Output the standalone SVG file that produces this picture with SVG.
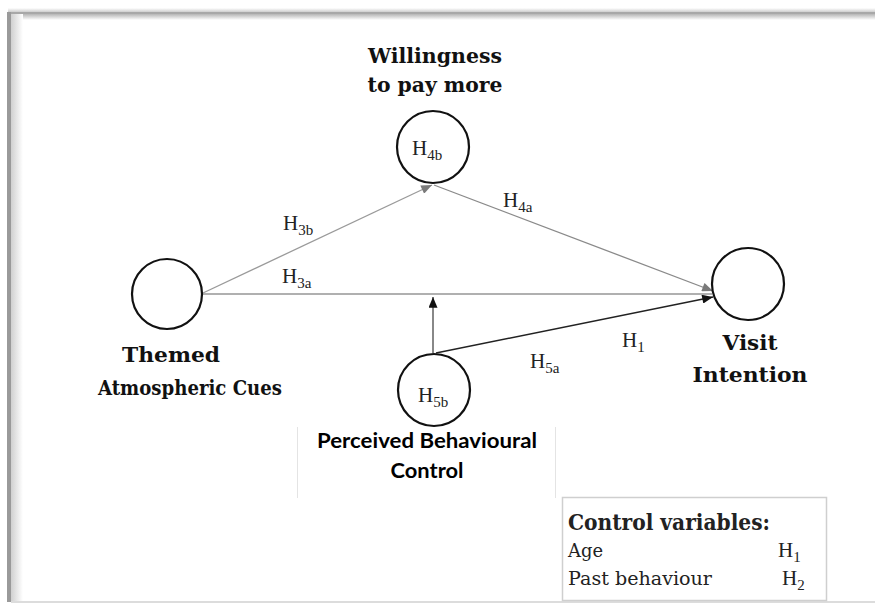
<svg xmlns="http://www.w3.org/2000/svg" width="875" height="605" viewBox="0 0 875 605">
<defs>
<marker id="ag" viewBox="0 0 12 10" refX="12" refY="5" markerWidth="12" markerHeight="9" orient="auto" markerUnits="userSpaceOnUse">
<path d="M0,0 L12,5 L0,10 z" fill="#7a7a7a"/>
</marker>
<marker id="ab" viewBox="0 0 12 10" refX="12" refY="5" markerWidth="12" markerHeight="9" orient="auto" markerUnits="userSpaceOnUse">
<path d="M0,0 L12,5 L0,10 z" fill="#111"/>
</marker>
<linearGradient id="topsh" x1="0" y1="0" x2="0" y2="1">
<stop offset="0" stop-color="#ffffff"/>
<stop offset="0.5" stop-color="#b5b5b5"/>
<stop offset="1" stop-color="#ffffff"/>
</linearGradient>
<linearGradient id="leftsh" x1="0" y1="0" x2="1" y2="0">
<stop offset="0" stop-color="#d0d0d0"/>
<stop offset="1" stop-color="#ffffff"/>
</linearGradient>
</defs>
<style>
.node{fill:#fff;stroke:#111;stroke-width:2.2}
.lbl{font-family:"DejaVu Serif","Liberation Serif",serif;font-weight:bold;font-size:20.5px;fill:#111;text-anchor:middle}
.h{font-family:"Liberation Serif","DejaVu Serif",serif;font-size:21px;fill:#222}
.sub{font-size:15px}
.sans{font-family:Lato,"Open Sans","Liberation Sans",sans-serif;font-weight:bold;font-size:20px;fill:#000;text-anchor:middle}
.ctlb{font-family:"DejaVu Serif","Liberation Serif",serif;font-weight:bold;font-size:22px;fill:#222}
.ctl{font-family:"DejaVu Serif","Liberation Serif",serif;font-size:19px;fill:#222}
</style>
<rect width="875" height="605" fill="#fff"/>
<g id="frame">
<rect x="8" y="8" width="867" height="12" fill="url(#topsh)"/>
<rect x="8" y="12" width="867" height="2" fill="#a8a8a8"/>
<rect x="11" y="14" width="12" height="588" fill="url(#leftsh)"/>
<rect x="7" y="12" width="4" height="590" fill="#9a9a9a"/>
<rect x="11" y="601" width="864" height="2" fill="#dcdcdc"/>
</g>
<g id="connectors">
<line x1="203" y1="294" x2="712" y2="294" stroke="#b0b0b0" stroke-width="2"/>
<line x1="203" y1="293" x2="432" y2="185" stroke="#9a9a9a" stroke-width="1.3" marker-end="url(#ag)"/>
<line x1="434" y1="185" x2="713" y2="291" stroke="#8a8a8a" stroke-width="1.3" marker-end="url(#ag)"/>
<line x1="436" y1="353" x2="713" y2="297" stroke="#222" stroke-width="1.5" marker-end="url(#ab)"/>
<line x1="433" y1="353" x2="433" y2="297" stroke="#888" stroke-width="2" marker-end="url(#ab)"/>
</g>
<g id="labels">
<text class="h" x="283" y="230">H<tspan class="sub" dy="5">3b</tspan></text>
<text class="h" x="282" y="283">H<tspan class="sub" dy="5">3a</tspan></text>
<text class="h" x="503" y="207">H<tspan class="sub" dy="5">4a</tspan></text>
<text class="h" x="622" y="347">H<tspan class="sub" dy="5">1</tspan></text>
<text class="h" x="530" y="368">H<tspan class="sub" dy="5">5a</tspan></text>
</g>
<g id="themed">
<circle class="node" cx="167" cy="294" r="35"/>
<text class="lbl" x="171" y="362" textLength="98" lengthAdjust="spacingAndGlyphs">Themed</text>
<text class="lbl" x="190" y="395" textLength="184" lengthAdjust="spacingAndGlyphs">Atmospheric Cues</text>
</g>
<g id="willingness">
<circle class="node" cx="433" cy="147" r="36"/>
<text class="h" x="412" y="155" font-size="20">H<tspan class="sub" dy="5">4b</tspan></text>
<text class="lbl" x="435" y="63" textLength="134" lengthAdjust="spacingAndGlyphs">Willingness</text>
<text class="lbl" x="435" y="92" textLength="135" lengthAdjust="spacingAndGlyphs">to pay more</text>
</g>
<g id="visit">
<circle class="node" cx="748" cy="284" r="36"/>
<text class="lbl" x="750" y="350" textLength="55" lengthAdjust="spacingAndGlyphs">Visit</text>
<text class="lbl" x="750" y="382" textLength="115" lengthAdjust="spacingAndGlyphs">Intention</text>
</g>
<g id="pbc">
<rect x="297" y="427" width="258" height="71" fill="#fff" stroke="none"/>
<line x1="297.5" y1="427" x2="297.5" y2="498" stroke="#e4e4e4" stroke-width="1"/>
<line x1="555.5" y1="427" x2="555.5" y2="498" stroke="#e4e4e4" stroke-width="1"/>
<circle class="node" cx="434" cy="390" r="36"/>
<text class="h" x="418" y="402" font-size="20">H<tspan class="sub" dy="5">5b</tspan></text>
<text class="sans" x="427" y="448" textLength="220" lengthAdjust="spacingAndGlyphs">Perceived Behavioural</text>
<text class="sans" x="427" y="478" textLength="73" lengthAdjust="spacingAndGlyphs">Control</text>
</g>
<g id="controls">
<rect x="562.5" y="497.5" width="264" height="103" fill="#fff" stroke="#cfcfcf" stroke-width="1.5"/>
<text class="ctlb" x="568" y="530" textLength="202" lengthAdjust="spacingAndGlyphs">Control variables:</text>
<text class="ctl" x="568" y="557" textLength="35" lengthAdjust="spacingAndGlyphs">Age</text>
<text class="ctl" x="568" y="585" textLength="144" lengthAdjust="spacingAndGlyphs">Past behaviour</text>
<text class="h" x="778" y="557" font-size="20">H<tspan class="sub" dy="5">1</tspan></text>
<text class="h" x="782" y="585" font-size="20">H<tspan class="sub" dy="5">2</tspan></text>
</g>
</svg>
